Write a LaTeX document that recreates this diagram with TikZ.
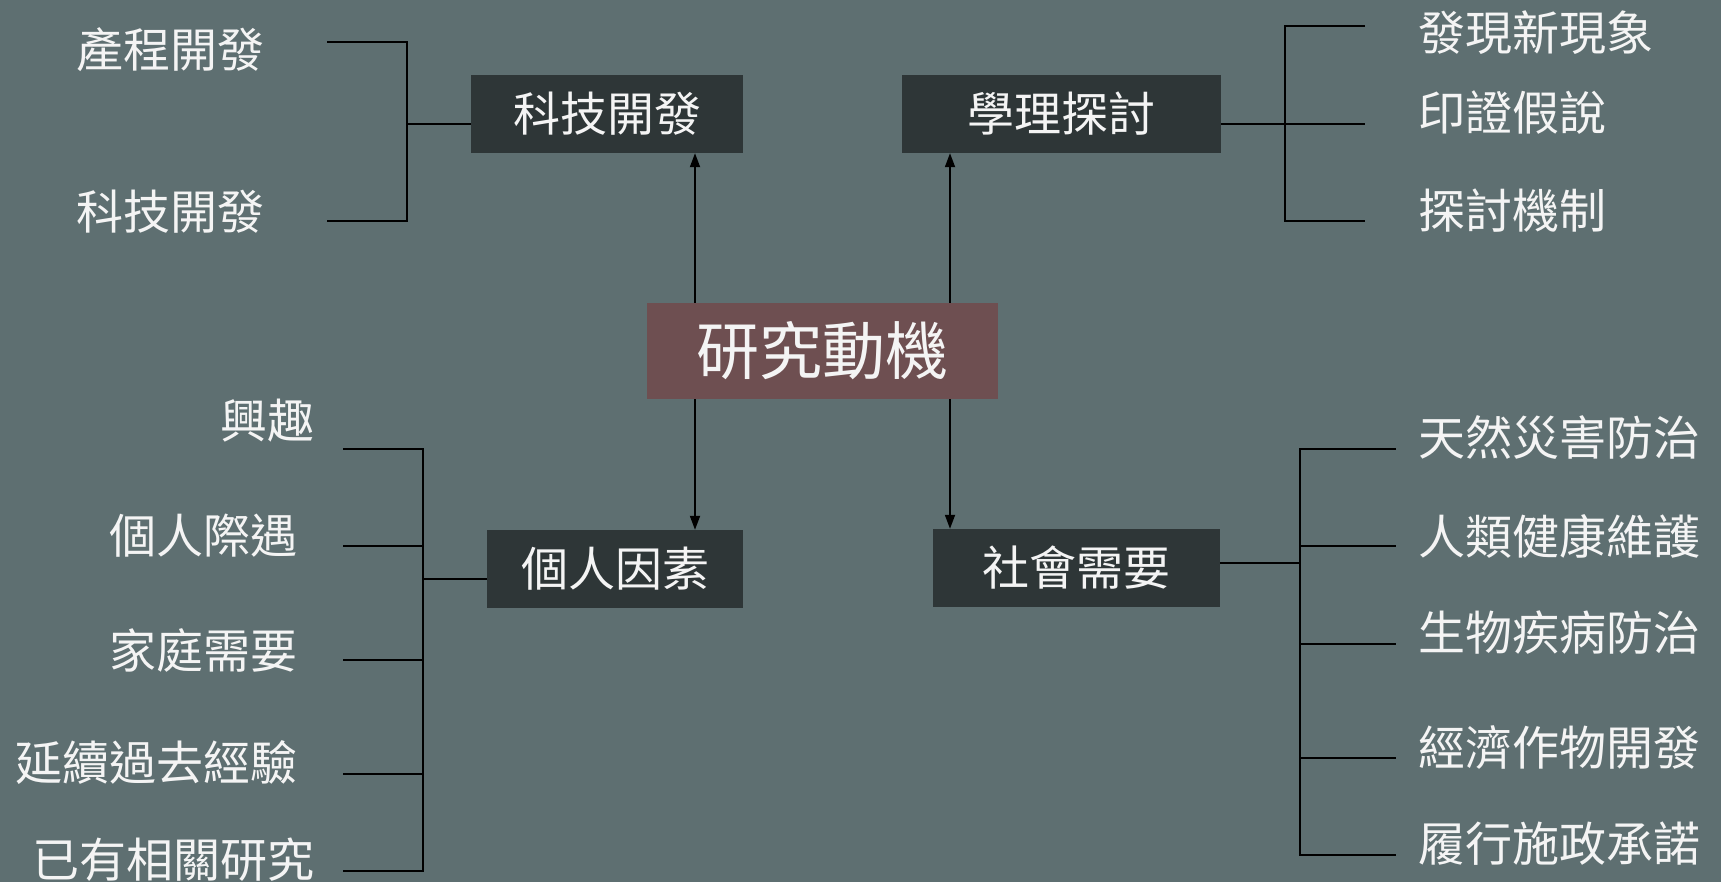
\documentclass[tikz,border=0pt]{standalone}
\usepackage{fontspec}
\newfontfamily\cjk{Noto Sans CJK TC}
\usetikzlibrary{arrows.meta}
\definecolor{bgc}{HTML}{5E6F71}
\definecolor{boxc}{HTML}{2E3637}
\definecolor{cenc}{HTML}{6E4F51}
\definecolor{txtc}{HTML}{F4F4F4}
\tikzset{
  catbox/.style={fill=boxc, text=txtc, inner sep=0pt, font=\cjk\fontsize{47}{56}\selectfont},
  cenbox/.style={fill=cenc, text=txtc, inner sep=0pt, font=\cjk\fontsize{63}{74}\selectfont},
  leafl/.style={text=txtc, inner sep=0pt, anchor=east, font=\cjk\fontsize{47}{56}\selectfont},
  leafr/.style={text=txtc, inner sep=0pt, anchor=west, font=\cjk\fontsize{47}{56}\selectfont},
  brk/.style={draw=black, line width=2pt},
  arr/.style={draw=black, line width=1.8pt, -{Triangle[length=14pt,width=10pt]}}
}
\begin{document}
\begin{tikzpicture}[x=1pt,y=-1pt]
\fill[bgc] (0,0) rectangle (1721,882);
\useasboundingbox (0,0) rectangle (1721,882);

% boxes
\node[cenbox, minimum width=351pt, minimum height=96pt] (cen) at (822.5,351) {研究動機};
\node[catbox, minimum width=272pt, minimum height=78pt] (tech) at (607,114) {科技開發};
\node[catbox, minimum width=319pt, minimum height=78pt] (theo) at (1061.5,114) {學理探討};
\node[catbox, minimum width=256pt, minimum height=78pt] (pers) at (615,569) {個人因素};
\node[catbox, minimum width=287pt, minimum height=78pt] (soc) at (1076.5,568) {社會需要};

% arrows
\draw[arr] (cen.north -| 695,0) -- (tech.south -| 695,0);
\draw[arr] (cen.north -| 950,0) -- (theo.south -| 950,0);
\draw[arr] (cen.south -| 695,0) -- (pers.north -| 695,0);
\draw[arr] (cen.south -| 950,0) -- (soc.north -| 950,0);

% left top leaves
\node[leafl] (l1) at (265,50) {產程開發};
\node[leafl] (l2) at (265,212) {科技開發};
\coordinate (tb1) at (327,42);
\coordinate (tb2) at (327,221);
\draw[brk] (tb1) -- (407,42) -- (407,221) -- (tb2);
\draw[brk] (407,124) -- (tech.west |- 0,124);

% right top leaves
\node[leafr] (r1) at (1418,33) {發現新現象};
\node[leafr] (r2) at (1418,113) {印證假說};
\node[leafr] (r3) at (1418,211) {探討機制};
\coordinate (rb1) at (1365,26);
\coordinate (rb2) at (1365,124);
\coordinate (rb3) at (1365,221);
\draw[brk] (rb1) -- (1285,26) -- (1285,221) -- (rb3);
\draw[brk] (theo.east |- 0,124) -- (rb2);

% left bottom leaves
\node[leafl] (p1) at (315,421) {興趣};
\node[leafl] (p2) at (298,536) {個人際遇};
\node[leafl] (p3) at (298,650) {家庭需要};
\node[leafl] (p4) at (298,763) {延續過去經驗};
\node[leafl] (p5) at (315,860) {已有相關研究};
\draw[brk] (343,449) -- (423,449) -- (423,871) -- (343,871);
\draw[brk] (343,546) -- (423,546);
\draw[brk] (343,660) -- (423,660);
\draw[brk] (343,774) -- (423,774);
\draw[brk] (423,579) -- (pers.west |- 0,579);

% right bottom leaves
\node[leafr] (s1) at (1418,438) {天然災害防治};
\node[leafr] (s2) at (1418,536) {人類健康維護};
\node[leafr] (s3) at (1418,633) {生物疾病防治};
\node[leafr] (s4) at (1418,747) {經濟作物開發};
\node[leafr] (s5) at (1418,844) {履行施政承諾};
\draw[brk] (1396,449) -- (1300,449) -- (1300,855) -- (1396,855);
\draw[brk] (1300,546) -- (1396,546);
\draw[brk] (1300,644) -- (1396,644);
\draw[brk] (1300,758) -- (1396,758);
\draw[brk] (soc.east |- 0,563) -- (1300,563);
\end{tikzpicture}
\end{document}
